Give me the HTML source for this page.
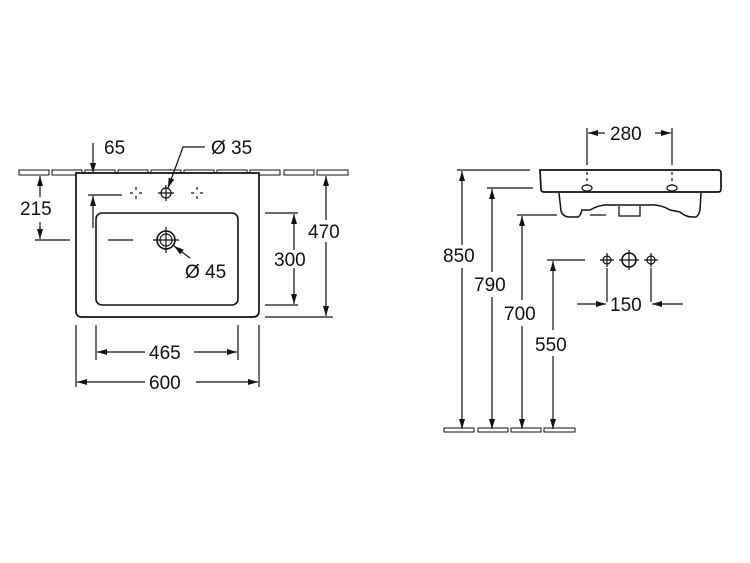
<!DOCTYPE html>
<html><head><style>
html,body{margin:0;padding:0;background:#fff;}
svg{display:block;}
text{font-family:"Liberation Sans",sans-serif;font-size:19px;fill:#111;}
</style></head><body>
<svg width="750" height="563" viewBox="0 0 750 563" xmlns="http://www.w3.org/2000/svg">
<defs>
<marker id="a" viewBox="0 0 10 6" refX="10" refY="3" markerWidth="11" markerHeight="6" orient="auto-start-reverse" markerUnits="userSpaceOnUse"><path d="M0,0 L10,3 L0,6 z" fill="#111"/></marker>
</defs>
<g stroke="#111" stroke-width="1.2" fill="none">
<g stroke-width="1">
<rect x="19" y="170" width="30" height="5"/><rect x="52" y="170" width="30" height="5"/><rect x="85" y="170" width="30" height="5"/><rect x="118" y="170" width="30" height="5"/><rect x="151" y="170" width="30" height="5"/><rect x="184" y="170" width="30" height="5"/><rect x="217" y="170" width="30" height="5"/><rect x="250" y="170" width="30" height="5"/><rect x="284" y="170" width="30" height="5"/><rect x="317" y="170" width="31" height="5"/>
</g>
<path d="M76,173 L259,173 L259,311 Q259,317 253,317 L82,317 Q76,317 76,311 Z" fill="#fff" stroke-width="1.7"/>
<rect x="96" y="213" width="142" height="92" rx="6" stroke-width="1.6"/>
<circle cx="166" cy="240" r="9" stroke-width="1.6"/><circle cx="166" cy="240" r="6"/>
<path d="M153,240 H179 M166,227 V253"/>
<circle cx="166" cy="193" r="5"/><path d="M158,193 H174 M166,185 V201"/>
<path d="M130,193 h3 M139,193 h3 M136,187 v3 M136,196 v3 M191,193 h3 M200,193 h3 M197,187 v3 M197,196 v3"/>
<path d="M35,240 H70"/>
<path d="M40,197 V176" marker-end="url(#a)" />
<path d="M40,222 V239" marker-end="url(#a)"/>
<path d="M93,143 V173" marker-end="url(#a)"/>
<path d="M88,195 H122"/>
<path d="M93,228 V196" marker-end="url(#a)"/>
<path d="M108,240 H133"/>
<path d="M205,147 H183 L168,188" marker-end="url(#a)"/>
<path d="M190,258 L174,246" marker-end="url(#a)"/>
<path d="M265,213 H298 M265,305 H298"/>
<path d="M294,250 V214" marker-end="url(#a)"/><path d="M294,268 V304" marker-end="url(#a)"/>
<path d="M265,317 H333"/>
<path d="M326,220 V176" marker-end="url(#a)"/><path d="M326,242 V316" marker-end="url(#a)"/>
<path d="M96,325 V360 M238,325 V360"/>
<path d="M145,352 H97" marker-end="url(#a)"/><path d="M194,352 H237" marker-end="url(#a)"/>
<path d="M76,325 V387 M259,325 V387"/>
<path d="M145,382 H77" marker-end="url(#a)"/><path d="M196,382 H258" marker-end="url(#a)"/>

<path d="M587,128 V165 M672,128 V165"/>
<path d="M605,133 H588" marker-end="url(#a)"/><path d="M655,133 H671" marker-end="url(#a)"/>
<path d="M587,172 V185 M672,172 V185" stroke-dasharray="3,3"/>
<path d="M540,170 H718 Q721,170 721,173 V189 Q721,192 718,192 H544 Q541,192 541,189 Z" stroke-width="1.7"/>
<path d="M559,193 L561,211 Q563,217 570,217 L578,217 Q581,215 582,210 L590,210 Q600,204 610,205 L650,205 Q660,204 670,210 L680,212 Q686,217 692,217 L696,217 Q699,215 700,210 L701,193" stroke-width="1.5"/>
<path d="M619,206 V216 H640 V206" stroke-width="1.3"/>
<ellipse cx="587" cy="188" rx="5" ry="3"/><ellipse cx="672" cy="188" rx="5" ry="3"/>
<path d="M457,170 H530 M487,188 H533 M517,215 H557 M590,215 H606 M547,260 H585"/>
<path d="M462,245 V171" marker-end="url(#a)"/><path d="M462,268 V429" marker-end="url(#a)"/>
<path d="M492,272 V189" marker-end="url(#a)"/><path d="M492,297 V429" marker-end="url(#a)"/>
<path d="M522,300 V216" marker-end="url(#a)"/><path d="M522,326 V429" marker-end="url(#a)"/>
<path d="M553,330 V261" marker-end="url(#a)"/><path d="M553,356 V429" marker-end="url(#a)"/>
<g stroke-width="1">
<rect x="444" y="428" width="30" height="4"/><rect x="478" y="428" width="30" height="4"/><rect x="511" y="428" width="30" height="4"/><rect x="544" y="428" width="31" height="4"/>
</g>
<circle cx="607" cy="260" r="4"/><path d="M600,260 H614 M607,253 V267"/>
<circle cx="629" cy="260" r="7" stroke-width="1.6"/><path d="M619,260 H639 M629,250 V270"/>
<circle cx="651" cy="260" r="4"/><path d="M644,260 H658 M651,253 V267"/>
<path d="M607,268 V302 M651,268 V302"/>
<path d="M577,304 H606" marker-end="url(#a)"/><path d="M683,304 H652" marker-end="url(#a)"/>
</g>
<g>
<text x="104" y="154">65</text>
<text x="211" y="154">Ø 35</text>
<text x="20" y="215">215</text>
<text x="185" y="278">Ø 45</text>
<text x="274" y="266">300</text>
<text x="308" y="238">470</text>
<text x="149" y="359">465</text>
<text x="149" y="389">600</text>
<text x="610" y="140">280</text>
<text x="443" y="262">850</text>
<text x="474" y="291">790</text>
<text x="504" y="320">700</text>
<text x="535" y="351">550</text>
<text x="610" y="311">150</text>
</g>
</svg>
</body></html>
